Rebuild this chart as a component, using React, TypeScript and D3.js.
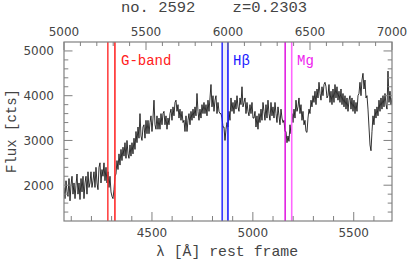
import React from 'react';
import * as d3 from 'd3';

const redshift = 0.2303;
const objectId = 2592;
const obsDomain = [5000, 7000];
const fluxDomain = [1200, 5200];
const topTicks = [5000, 5500, 6000, 6500, 7000];
const bottomTicks = [4500, 5000, 5500];
const yTicks = [2000, 3000, 4000, 5000];
const waveStart = 4064.05;
const waveStep = 4.956;
const flux = [
  1950, 1700, 2100, 1850, 1750, 2150, 1650, 2000, 2200, 1800,
  2050, 1700, 2000, 2250, 1800, 2050, 1680, 2150, 1850, 2200,
  1700, 2050, 2200, 1800, 2300, 1950, 2050, 2300, 1950, 2100,
  2300, 1950, 2400, 2050, 1900, 2400, 2500, 2050, 2350, 2200,
  2500, 2100, 2400, 2050, 2300, 1950, 2200, 1850, 1750, 1700,
  1900, 2200, 2250, 2550, 2350, 2700, 2450, 2800, 2550, 2850,
  2650, 2950, 2600, 3000, 2700, 2600, 2900, 2650, 2950, 2700,
  3050, 2800, 3200, 2950, 3300, 3050, 3600, 3100, 3000, 3300,
  3350, 3050, 3450, 3150, 3450, 3150, 3400, 3550, 3200, 3500,
  3900, 3350, 3250, 3550, 3250, 3500, 3250, 3600, 3350, 3600,
  3650, 3350, 3550, 3250, 3500, 3350, 3600, 3700, 3450, 3750,
  3550, 3850, 3900, 3650, 3800, 3500, 3700, 3450, 3650, 3400,
  3450, 3200, 3550, 3200, 3450, 3600, 3350, 3650, 3450, 3700,
  3500, 3750, 3550, 4050, 3650, 3450, 3700, 3500, 3800, 3600,
  3850, 3600, 3800, 3550, 3900, 3650, 3950, 4250, 3750, 4000,
  3650, 3900, 4000, 3600, 3850, 3650, 3600, 3600, 3500, 3300,
  3300, 3000, 3250, 3400, 3300, 3650, 3450, 3950, 3650, 3850,
  3600, 3900, 3700, 4000, 3750, 3650, 3950, 3800, 4200, 3750,
  3850, 3950, 3600, 3850, 3650, 3550, 3800, 3600, 3850, 3500,
  3500, 3650, 3300, 3550, 3250, 3600, 3400, 3700, 3450, 3850,
  3650, 3450, 3800, 3500, 3900, 3600, 3450, 3850, 3550, 3750,
  3500, 3850, 3600, 3400, 3750, 3550, 3350, 3700, 3500, 3400,
  3450, 3200, 3200, 2950, 3100, 2980, 3350, 3150, 3600, 3400,
  3700, 3500, 3900, 3650, 3750, 3950, 3600, 3800, 3450, 3650,
  3350, 3450, 3200, 3180, 3500, 3700, 3600, 3900, 3750, 4000,
  3850, 4100, 3800, 4150, 3950, 4300, 4050, 3900, 4200, 4000,
  4250, 4300, 4200, 3950, 4000, 4250, 3850, 4100, 3800, 4150,
  3850, 4250, 3950, 4200, 3900, 4100, 3850, 4150, 3800, 4050,
  3750, 4000, 3700, 3950, 3650, 3900, 4000, 3700, 3950, 3650,
  3900, 3600, 3850, 3650, 4000, 4050, 4300, 4000, 4350, 4500,
  4150, 4350, 3950, 4000, 3700, 3300, 2900, 2770, 3200, 3550,
  3350, 3700, 3500, 3750, 3550, 3900, 3650, 3950, 3700, 4000,
  3750, 4050, 3800, 3700, 4550, 3850, 4100, 3800, 3950,
];
const bandNames = ['G-band', 'H\u03b2', 'Mg'];
const bandLo = [4281.4, 4847.9, 5160.1];
const bandHi = [4316.4, 4876.6, 5192.6];

const W = 407, H = 263;
const L = 64, R = 392, T = 42, B = 221;

export default function App() {
  const xTop = d3.scaleLinear().domain(obsDomain).range([L, R]);
  const x = d3.scaleLinear().domain(obsDomain.map(v => v / (1 + redshift))).range([L, R]);
  const y = d3.scaleLinear().domain(fluxDomain).range([B, T]);
  const pts = flux.map((f, i) => [waveStart + i * waveStep, f] as [number, number]);
  const line = d3.line<[number, number]>().x(d => x(d[0])).y(d => y(d[1]));
  const axisCol = '#808080';
  const txtCol = '#444';
  const topMinor = d3.range(5000, 7001, 100);
  const botMinor = d3.range(4100, 5700, 100);
  const yMinor = d3.range(1400, 5200, 200);
  const lineCols = [['#ff2a2a', '#ff2a2a'], ['#1a1aff', '#1a1aff'], ['#dd00dd', '#ff66ff']];
  const textCols = ['#ff2020', '#1a1aff', '#ee22ee'];
  const labelX = [121, 233, 297];
  return (
    <svg width={W} height={H} style={{ position: 'absolute', left: 0, top: 0, background: '#fff' }}>
      <defs>
        <clipPath id="plotclip"><rect x={L} y={T} width={R - L} height={B - T} /></clipPath>
      </defs>
      <text x={121} y={12} fontFamily="Liberation Mono" fontSize={15.5} fill={txtCol} style={{ whiteSpace: 'pre' }}>{`no. ${objectId}    z=${redshift.toFixed(4)}`}</text>
      <rect x={x(bandLo[1])} y={T} width={x(bandHi[1]) - x(bandLo[1])} height={B - T} fill="#eeeef8" />
      <path d={line(pts) || ''} fill="none" stroke="#000" strokeWidth={0.8} clipPath="url(#plotclip)" />
      {bandNames.map((n, i) => (
        <g key={n}>
          <line x1={x(bandLo[i])} x2={x(bandLo[i])} y1={T} y2={B} stroke={lineCols[i][0]} strokeWidth={1.4} />
          <line x1={x(bandHi[i])} x2={x(bandHi[i])} y1={T} y2={B} stroke={lineCols[i][1]} strokeWidth={1.6} />
          <text x={labelX[i]} y={65} fontFamily="Liberation Mono" fontSize={14} fill={textCols[i]}>{n}</text>
        </g>
      ))}
      <rect x={L} y={T} width={R - L} height={B - T} fill="none" stroke={axisCol} strokeWidth={1.2} />
      {topMinor.map(v => {
        const maj = v % 500 === 0;
        return <line key={'t' + v} x1={xTop(v)} x2={xTop(v)} y1={T} y2={T + (maj ? 8 : 4)} stroke={axisCol} />;
      })}
      {botMinor.map(v => {
        const maj = v % 500 === 0;
        return <line key={'b' + v} x1={x(v)} x2={x(v)} y1={B} y2={B - (maj ? 9 : 5)} stroke={axisCol} />;
      })}
      {yMinor.map(v => {
        const maj = v % 1000 === 0;
        return (
          <g key={'y' + v}>
            <line x1={L} x2={L + (maj ? 8.5 : 4.3)} y1={y(v)} y2={y(v)} stroke={axisCol} />
            <line x1={R} x2={R - (maj ? 8.5 : 4.3)} y1={y(v)} y2={y(v)} stroke={axisCol} />
          </g>
        );
      })}
      {topTicks.map(v => (
        <text key={'tl' + v} x={xTop(v)} y={36} textAnchor="middle" fontFamily="DejaVu Sans" fontSize={12} fill={txtCol}>{v}</text>
      ))}
      {bottomTicks.map(v => (
        <text key={'bl' + v} x={x(v)} y={237} textAnchor="middle" fontFamily="DejaVu Sans" fontSize={12} fill={txtCol}>{v}</text>
      ))}
      {yTicks.map(v => (
        <text key={'yl' + v} x={54} y={y(v)} dy="0.36em" textAnchor="end" fontFamily="DejaVu Sans" fontSize={12} fill={txtCol}>{v}</text>
      ))}
      <text x={227} y={256} textAnchor="middle" fontFamily="Liberation Mono" fontSize={14.8} fill={txtCol}>{'\u03bb [\u00c5] rest frame'}</text>
      <text transform="translate(16,131) rotate(-90)" textAnchor="middle" fontFamily="Liberation Mono" fontSize={14} fill={txtCol}>Flux [cts]</text>
    </svg>
  );
}
